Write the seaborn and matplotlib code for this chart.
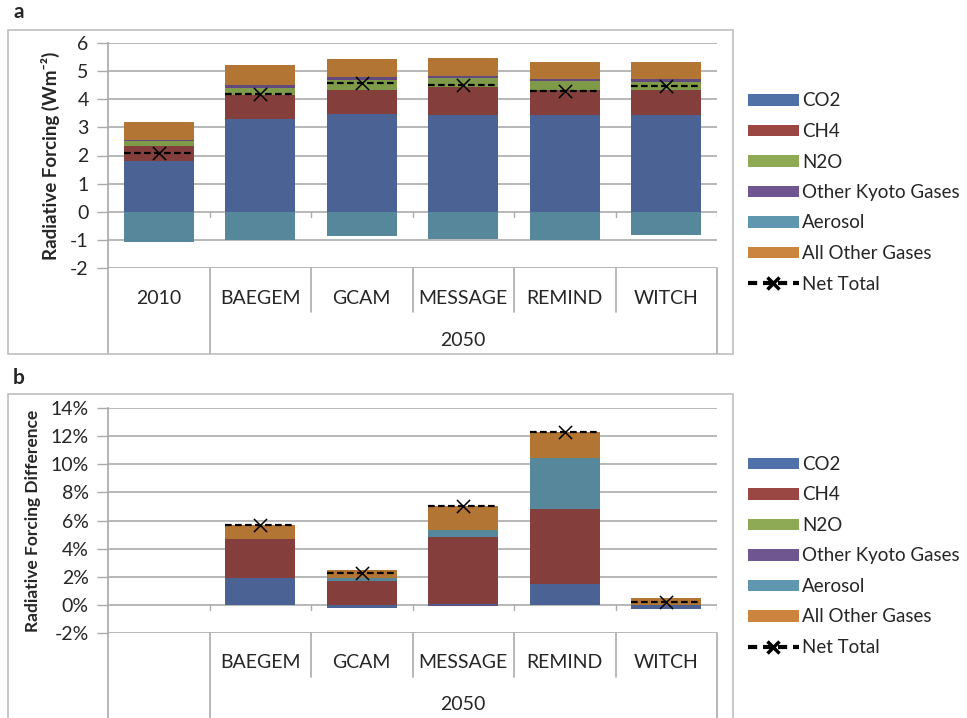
import numpy as np
import pandas as pd
import seaborn as sns
import matplotlib.pyplot as plt
from matplotlib.patches import Patch, Rectangle
from matplotlib.lines import Line2D

# ---- data -------------------------------------------------------------
models = ['2010', 'BAEGEM', 'GCAM', 'MESSAGE', 'REMIND', 'WITCH']
gases = ['CO2', 'CH4', 'N2O', 'Other Kyoto Gases', 'Aerosol', 'All Other Gases']

# panel a, radiative forcing (W m-2)
co2_a = [1.81, 3.30, 3.46, 3.44, 3.44, 3.45]
ch4_a = [0.52, 0.85, 0.86, 1.00, 0.88, 0.89]
n2o_a = [0.20, 0.26, 0.35, 0.32, 0.34, 0.26]
kyoto_a = [0.02, 0.11, 0.11, 0.08, 0.05, 0.11]
aerosol_a = [-1.09, -1.02, -0.87, -0.97, -1.02, -0.83]
other_a = [0.65, 0.70, 0.65, 0.63, 0.62, 0.62]
net_a = [2.10, 4.20, 4.58, 4.51, 4.31, 4.48]

# panel b, radiative forcing difference (%), no bar for 2010
co2_b = [np.nan, 1.88, -0.21, 0.07, 1.45, -0.26]
ch4_b = [np.nan, 2.79, 1.68, 4.74, 5.36, 0.00]
n2o_b = [np.nan, 0.00, 0.00, 0.00, 0.00, 0.00]
kyoto_b = [np.nan, 0.04, 0.00, -0.05, 0.00, -0.05]
aerosol_b = [np.nan, 0.00, 0.26, 0.50, 3.64, 0.00]
other_b = [np.nan, 0.98, 0.51, 1.74, 1.84, 0.50]
net_b = [np.nan, 5.69, 2.27, 7.05, 12.29, 0.20]

colors = ['#4A6394', '#843F3D', '#7F9A48', '#624A7E', '#56879A', '#B27534']
legend_colors = ['#4F71A8', '#9A4744', '#8FAA54', '#6F5690', '#5F98AE', '#CC853E']

sns.set_theme(style='white')
plt.rcParams['font.family'] = ['Lato', 'DejaVu Sans']

W, H = 967, 718
fig = plt.figure(figsize=(W / 100, H / 100), dpi=100)
grid_c = '#ABABAB'


def fx(px):
    return px / W


def fy(py):
    return 1 - py / H


def draw_panel(ax, values, net, ylim, yticks, ylabel, label_size, fmt, first_label):
    df = pd.DataFrame(dict(zip(gases, values)), index=models)
    x = np.arange(len(models))
    pos = np.zeros(len(models))
    neg = np.zeros(len(models))
    for gas, c in zip(gases, colors):
        v = df[gas].fillna(0).values
        bottom = np.where(v >= 0, pos, neg)
        ax.bar(x, v, width=0.69, bottom=bottom, color=c, edgecolor='none', zorder=3)
        pos = pos + np.where(v >= 0, v, 0)
        neg = neg + np.where(v < 0, v, 0)

    net = np.array(net, dtype=float)
    ok = ~np.isnan(net)
    ax.hlines(net[ok], x[ok] - 0.345, x[ok] + 0.345, colors='black',
              linestyles=(0, (3, 1.5)), lw=1.6, zorder=5)
    sns.scatterplot(x=x[ok], y=net[ok], marker='x', s=90, color='black',
                    linewidth=1.1, ax=ax, zorder=6, legend=False)

    ax.set_xlim(-0.5, len(models) - 0.5)
    ax.set_ylim(*ylim)
    ax.set_yticks(yticks)
    ax.set_yticklabels([fmt(t) for t in yticks], fontsize=14)
    ax.yaxis.grid(True, color=grid_c, lw=1.2, zorder=0)
    ax.tick_params(axis='y', length=8, width=1, color=grid_c, pad=6, left=True)
    ax.set_xticks([])
    for s in ['top', 'right', 'bottom']:
        ax.spines[s].set_visible(False)
    ax.spines['left'].set_color(grid_c)
    ax.set_ylabel(ylabel, fontsize=label_size, fontweight='bold', labelpad=7)

    # small ticks on the zero line
    tick_len = (ylim[1] - ylim[0]) * 5 / 225
    for b in np.arange(0.5, len(models), 1):
        ax.plot([b, b], [0, -tick_len], color=grid_c, lw=1, zorder=2)

    # two-level category axis below the plot
    tr = ax.get_xaxis_transform()
    full = -86 / 225
    inner = -44 / 225
    for b in [-0.5, 0.5, len(models) - 0.5]:
        ax.plot([b, b], [0, full], color=grid_c, lw=1.2, transform=tr, clip_on=False)
    for b in np.arange(1.5, len(models) - 1, 1):
        ax.plot([b, b], [0, inner], color=grid_c, lw=1.2, transform=tr, clip_on=False)
    labels = [first_label] + models[1:]
    for i, lab in enumerate(labels):
        ax.text(i, -30 / 225, lab, transform=tr, ha='center', va='center', fontsize=14)
    ax.text((1 + len(models) - 1) / 2, -72 / 225, '2050', transform=tr,
            ha='center', va='center', fontsize=14)


def add_legend(ymid):
    handles = [Patch(facecolor=c, edgecolor='none') for c in legend_colors]
    handles.append(Line2D([], [], color='black', lw=3, linestyle=(0, (2.2, 1.4)),
                          marker='x', markersize=9, markeredgewidth=2.5))
    fig.legend(handles, gases + ['Net Total'], loc='center left',
               bbox_to_anchor=(fx(748), fy(ymid)), frameon=False, fontsize=13.5,
               handlelength=2.7, handleheight=0.55, handletextpad=0.2,
               labelspacing=0.72, borderpad=0, borderaxespad=0)


# outer frames
for top, bot in [(30, 354), (394, 719)]:
    fig.add_artist(Rectangle((fx(8), fy(bot)), fx(733 - 8), (bot - top) / H,
                             transform=fig.transFigure, fill=False,
                             edgecolor='#BFBFBF', lw=1.2))

ax_a = fig.add_axes([fx(108), fy(268), fx(717 - 108), 225 / H])
draw_panel(ax_a, [co2_a, ch4_a, n2o_a, kyoto_a, aerosol_a, other_a], net_a,
           (-2, 6), list(range(-2, 7)), 'Radiative Forcing (Wm\u207b\u00b2)', 13.5,
           lambda t: '%d' % t, '2010')
add_legend(192.5)

ax_b = fig.add_axes([fx(108), fy(633), fx(717 - 108), 225 / H])
draw_panel(ax_b, [co2_b, ch4_b, n2o_b, kyoto_b, aerosol_b, other_b], net_b,
           (-2, 14), list(range(-2, 15, 2)), 'Radiative Forcing Difference', 12.5,
           lambda t: '%d%%' % t, '')
add_legend(556)

fig.text(fx(13), fy(12), 'a', fontsize=15, fontweight='bold', va='center')
fig.text(fx(13), fy(378), 'b', fontsize=15, fontweight='bold', va='center')

fig.savefig('out.png', dpi=100)
